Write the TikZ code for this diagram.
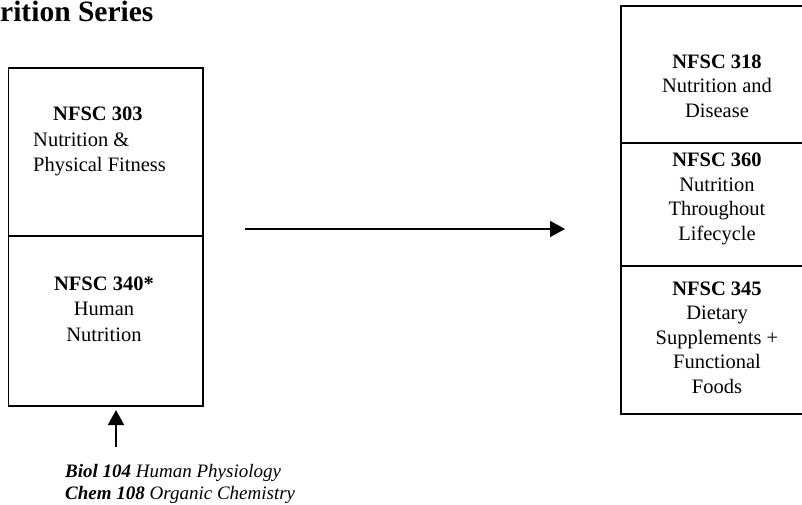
\documentclass[tikz,border=0pt]{standalone}
\usepackage{fontspec}
\setmainfont{Liberation Serif}
\usetikzlibrary{arrows.meta}
\begin{document}
\begin{tikzpicture}[x=1pt,y=-1pt,
  cell/.style={draw, line width=1.8pt, inner sep=0pt, outer sep=0pt, anchor=north west},
  txt/.style={font=\fontsize{20.5}{24.5}\selectfont, inner sep=0pt, align=center},
  ltxt/.style={font=\fontsize{20.5}{25.5}\selectfont, inner sep=0pt},
  arr/.style={line width=1.8pt, -{Triangle[length=15pt,width=16pt]}}]
\useasboundingbox (0,0) rectangle (802,505);
\clip (0,0) rectangle (802,505);
\node[cell, minimum width=194.5pt, minimum height=168pt] (l1) at (8.5,68) {};
\node[cell, minimum width=194.5pt, minimum height=170pt] (l2) at (8.5,236) {};
\node[cell, minimum width=192pt, minimum height=137pt] (r1) at (621,6) {};
\node[cell, minimum width=192pt, minimum height=123pt] (r2) at (621,143) {};
\node[cell, minimum width=192pt, minimum height=148pt] (r3) at (621,266) {};
\node[ltxt, align=left, anchor=west] (t303) at (33,141.5) {\hspace*{20pt}\textbf{NFSC 303}\\Nutrition \&\\Physical Fitness};
\node[ltxt, align=center] (t340) at (104,309) {\textbf{NFSC 340*}\\Human\\Nutrition};
\node[txt] (t318) at (717,86) {\textbf{NFSC 318}\\Nutrition and\\Disease};
\node[txt] (t360) at (717,199) {\textbf{NFSC 360}\\Nutrition\\Throughout\\Lifecycle};
\node[txt] (t345) at (717,337.5) {\textbf{NFSC 345}\\Dietary\\Supplements +\\Functional\\Foods};
\node[font=\fontsize{29.5}{31}\bfseries\selectfont, anchor=base west, inner sep=0pt] (title) at (0,22) {rition Series};
\node[font=\fontsize{19}{21.5}\selectfont\itshape, align=left, anchor=north west, inner sep=0pt] (pre) at (65,464.5) {\textbf{Biol 104} Human Physiology\\\textbf{Chem 108} Organic Chemistry};
\coordinate (ha) at (245,229);
\coordinate (hb) at (565,229);
\draw[arr] (ha) -- (hb);
\coordinate (va) at (116,447);
\coordinate (vb) at (116,410);
\draw[arr] (va) -- (vb);
\end{tikzpicture}
\end{document}
